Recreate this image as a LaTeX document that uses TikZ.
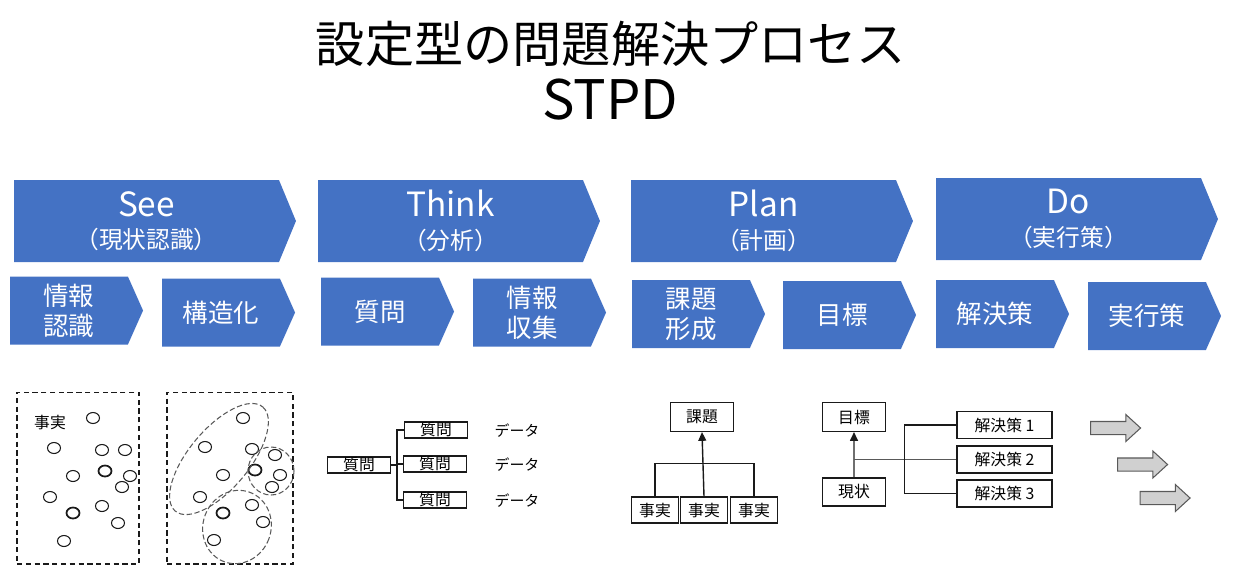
\documentclass[tikz,border=0pt]{standalone}
\usepackage{fontspec}
\setmainfont{Noto Sans CJK JP}
\usepackage{tikz}
\usetikzlibrary{arrows.meta,positioning,shapes.symbols,shapes.arrows,calc}
\definecolor{Stage}{HTML}{4472C4}
\definecolor{Ink}{HTML}{1A1A1A}
\definecolor{Rule}{HTML}{6F6F6F}
\definecolor{Shade}{HTML}{D0D0D0}
\definecolor{Edge}{HTML}{595959}
\tikzset{
  phase/.style={signal,signal to=east,signal pointer angle=135,fill=Stage,text=white,minimum width=5.64cm,minimum height=1.64cm,inner sep=0pt,align=center,font=\fontsize{13.5}{18.5}\selectfont},
  task/.style={signal,signal to=east,signal pointer angle=132,fill=Stage,text=white,minimum width=2.66cm,minimum height=1.36cm,inner sep=0pt,align=center,font=\fontsize{14.5}{17}\selectfont},
  box/.style={draw=Ink,line width=0.6pt,fill=white,inner sep=0pt,minimum width=1.26cm,minimum height=0.58cm,font=\fontsize{9}{10}\selectfont},
  frame/.style={draw=Ink,line width=0.6pt,dash pattern=on 3pt off 2pt,inner sep=0pt},
  cluster/.style={draw=Edge,line width=0.6pt,dash pattern=on 3pt off 1.5pt},
  link/.style={draw=Ink,line width=0.6pt},
  linkarrow/.style={-{Triangle[length=5pt,width=4.5pt]},line width=0.8pt,draw=Ink},
  blockarrow/.style={single arrow,draw=Edge,fill=Shade,line width=0.6pt,minimum height=1cm,inner xsep=0pt,inner ysep=0.12cm,single arrow head extend=0.14cm,single arrow tip angle=85}
}
\begin{document}
\begin{tikzpicture}[x=0.02cm,y=-0.02cm]
  \useasboundingbox (0,0) rectangle (1234,583);

  \node (title) at (611,44) {\fontsize{28}{30}\selectfont 設定型の問題解決プロセス};
  \node (stpd) at (610,100) {\fontsize{31}{33}\selectfont STPD};

  % phases
  \node[phase] (see) at (146.5,221) {{\fontsize{19}{19}\selectfont See}\\（現状認識）};
  \node[phase] (think) at (450.5,221) {{\fontsize{19}{19}\selectfont Think}\\（分析）};
  \node[phase] (plan) at (763.5,221) {{\fontsize{19}{19}\selectfont Plan}\\（計画）};
  \node[phase] (do) at (1068.5,219) {{\fontsize{19}{19}\selectfont Do}\\（実行策）};

  \node[task] (recog) at (69,310.5) {情報\\認識};
  \node[task] (struct) at (221,312.5) {構造化};
  \node[task] (ask) at (380,311.5) {質問};
  \node[task] (collect) at (532,312.5) {情報\\収集};
  \node[task] (issue) at (691,314) {課題\\形成};
  \node[task] (target) at (842,315) {目標};
  \node[task] (solve) at (995,314) {解決策};
  \node[task] (exec) at (1147,316) {実行策};

  % See: facts and structure
  \node[frame,minimum width=2.44cm,minimum height=3.44cm] (rawfacts) at (78,478) {};
  \node[frame,minimum width=2.52cm,minimum height=3.44cm] (grouped) at (230,478) {};
  \node[font=\fontsize{9}{10}\selectfont] (factlabel) at (50,423) {事実};
  \foreach \cx/\cy in {93/418,54/448,102/450,125/450,73/476,130/476,122/487,50/497,102/506,118/523,64/541,
                       243/418,205/447,252/449,275/455,223/475,280/475,272/487,200/497,252/505,263/522,214/540}
    \draw[Ink,line width=0.6pt] (\cx,\cy) ellipse [x radius=6.5,y radius=5.5];
  \foreach \cx/\cy in {105/471,73/513,255/470,223/513}
    \draw[Ink,line width=1pt] (\cx,\cy) ellipse [x radius=6.5,y radius=5.5];
  \draw[cluster,rotate around={50:(219,459)}] (219,459) ellipse [x radius=68,y radius=30];
  \draw[cluster] (271,471) ellipse [x radius=23,y radius=24];
  \draw[cluster,rotate around={-20:(237,527)}] (237,527) ellipse [x radius=34,y radius=37];

  % Think: question tree
  \node[box,minimum height=0.32cm] (q0) at (359,465) {質問};
  \node[box,minimum height=0.32cm] (q1) at (436,430) {質問};
  \node[box,minimum height=0.32cm] (q2) at (435,464) {質問};
  \node[box,minimum height=0.32cm] (q3) at (435,500) {質問};
  \draw[link] (q0.east) -- ++(6,0) |- (q1.west);
  \draw[link] (q0.east) -- ++(6,0) |- (q2.west);
  \draw[link] (q0.east) -- ++(6,0) |- (q3.west);
  \node[font=\fontsize{8.5}{10}\selectfont] (d1) at (517,431) {データ};
  \node[font=\fontsize{8.5}{10}\selectfont] (d2) at (517,465) {データ};
  \node[font=\fontsize{8.5}{10}\selectfont] (d3) at (517,501) {データ};

  % Plan: issue from facts
  \node[box] (topic) at (702,417) {課題};
  \node[box,minimum width=0.94cm,minimum height=0.52cm] (f1) at (655,510) {事実};
  \node[box,minimum width=0.94cm,minimum height=0.52cm] (f2) at (704,510) {事実};
  \node[box,minimum width=0.94cm,minimum height=0.52cm] (f3) at (754,510) {事実};
  \draw[link] (f1.north) -- ++(0,-33) -| (f3.north);
  \draw[linkarrow] (f2.north) -- (topic.south);

  % Plan: goal and solutions
  \node[box] (goal) at (854,417) {目標};
  \node[box,minimum height=0.56cm] (now) at (854,492) {現状};
  \node[box,minimum width=1.9cm,minimum height=0.54cm] (sol1) at (1004.5,425) {解決策 1};
  \node[box,minimum width=1.9cm,minimum height=0.54cm] (sol2) at (1004.5,459.5) {解決策 2};
  \node[box,minimum width=1.9cm,minimum height=0.54cm] (sol3) at (1004.5,493.5) {解決策 3};
  \draw[linkarrow,draw=Rule,-{Triangle[length=5pt,width=4.5pt,color=Ink]}] (now.north) -- (goal.south);
  \draw[link,draw=Edge,line width=1pt] (goal.south |- sol2.west) -- (sol2.west);
  \draw[link] (sol1.west) -- ++(-52,0) |- (sol3.west);

  % Do: block arrows
  \node[blockarrow] (go1) at (1112,428) {};
  \node[blockarrow] (go2) at (1139,464.5) {};
  \node[blockarrow] (go3) at (1161.5,498) {};
\end{tikzpicture}
\end{document}
